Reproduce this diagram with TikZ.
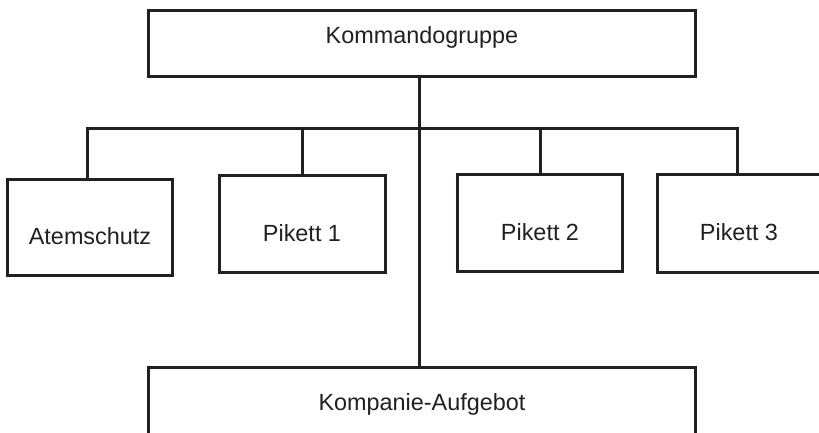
\documentclass[tikz,border=0pt]{standalone}
\usepackage{fontspec}
\setmainfont{Liberation Sans}
\definecolor{ink}{HTML}{231F20}
\begin{document}
\begin{tikzpicture}[x=1pt,y=-1pt,
  box/.style={draw=ink, line width=2.4pt, inner sep=0pt, rectangle},
  lbl/.style={anchor=base, inner sep=0pt, text=ink, font=\fontsize{23.4}{28}\selectfont},
  conn/.style={draw=ink, line width=2.4pt}]
\useasboundingbox (0,0) rectangle (819,433);
\clip (0,0) rectangle (819,433);
\node[box, minimum width=547pt, minimum height=66pt] (k) at (422,43.5) {};
\node[box, minimum width=165pt, minimum height=96pt] (a) at (90,227.5) {};
\node[box, minimum width=166pt, minimum height=97pt] (p1) at (302.5,224) {};
\node[box, minimum width=165pt, minimum height=97pt] (p2) at (540,223) {};
\node[box, minimum width=165pt, minimum height=98pt] (p3) at (740,223.5) {};
\node[box, minimum width=547pt, minimum height=70pt] (ka) at (422,402.5) {};
\node[lbl] (kt) at (422,44) {Kommandogruppe};
\node[lbl] (at) at (90,244) {Atemschutz};
\node[lbl] (p1t) at (302,241) {Pikett 1};
\node[lbl] (p2t) at (540,240) {Pikett 2};
\node[lbl] (p3t) at (739,240) {Pikett 3};
\node[lbl] (kat) at (422,410) {Kompanie-Aufgebot};
\coordinate (trunk) at (419.5,128.5);
\coordinate (busL) at (87.5,128.5);
\coordinate (busR) at (737.5,128.5);
\coordinate (d1) at (302.5,128.5);
\coordinate (d2) at (540.5,128.5);
\draw[conn] (k.south -| trunk) -- (ka.north -| trunk);
\draw[conn, line cap=rect] (busL) -- (busR);
\draw[conn] (busL) -- (busL |- a.north);
\draw[conn] (d1) -- (d1 |- p1.north);
\draw[conn] (d2) -- (d2 |- p2.north);
\draw[conn] (busR) -- (busR |- p3.north);
\end{tikzpicture}
\end{document}
